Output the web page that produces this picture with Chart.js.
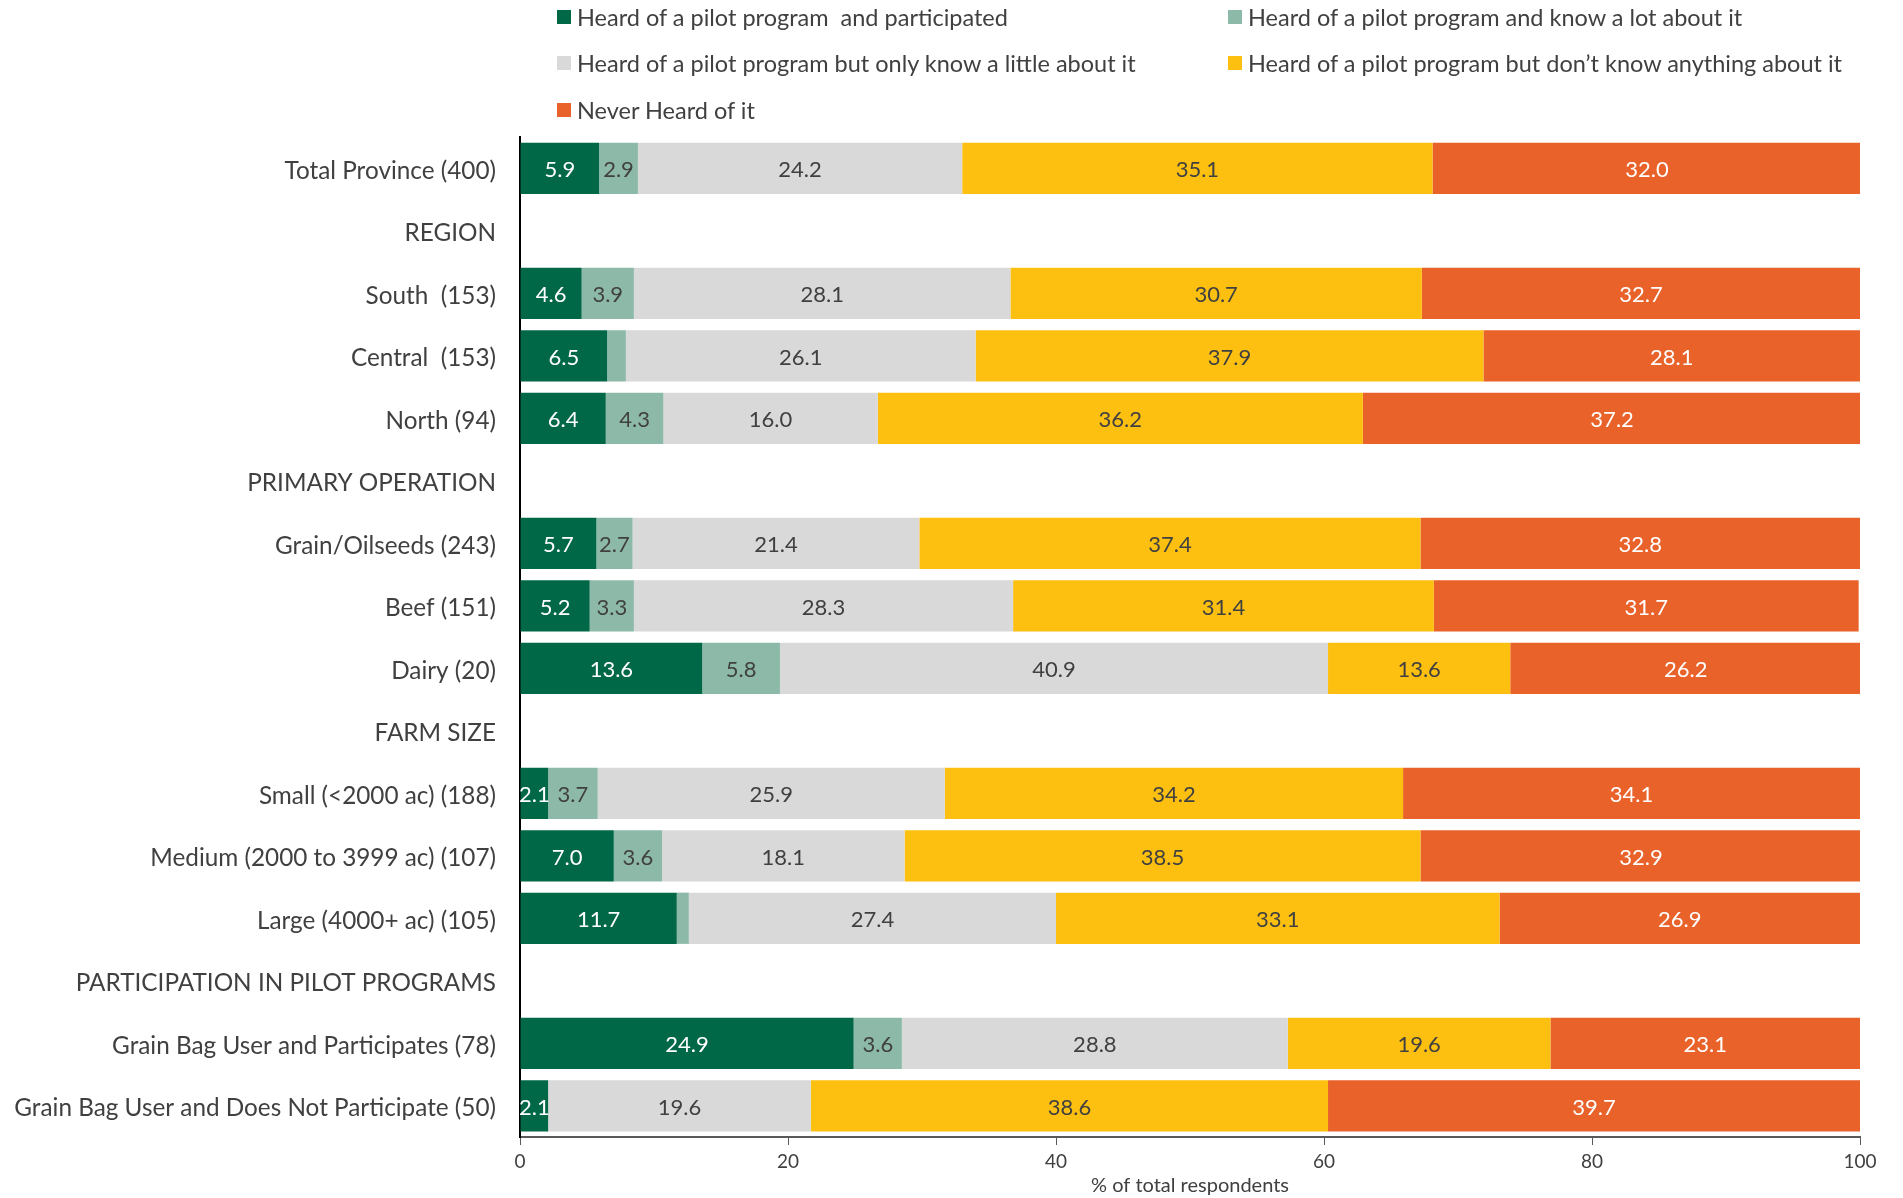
<!DOCTYPE html>
<html>
<head>
<meta charset="utf-8">
<script src="https://cdn.jsdelivr.net/npm/chart.js@4.4.1/dist/chart.umd.min.js"></script>
<style>
    html, body { margin: 0; padding: 0; background: #fff; }
    #wrap { position: relative; width: 1903px; height: 1198px; }
    #chart { position: absolute; left: 0; top: 0; }
    #legend { position: absolute; left: 0; top: 0; width: 1903px; height: 136px; }
    .lg-item {
        position: absolute;
        display: flex;
        align-items: center;
        font-family: Lato, "Open Sans", sans-serif;
        font-size: 23.5px;
        color: #404040;
        white-space: pre;
    }
    .lg-box { width: 14px; height: 14px; margin-right: 6px; }
</style>
</head>
<body>
<div id="wrap">
    <canvas id="chart" width="1903" height="1198"></canvas>
    <div id="legend"></div>
</div>
<script>
// Awareness of pilot programs, % of respondents per group
const categories = [
    'Total Province (400)',
    'REGION',
    'South  (153)',
    'Central  (153)',
    'North (94)',
    'PRIMARY OPERATION',
    'Grain/Oilseeds (243)',
    'Beef (151)',
    'Dairy (20)',
    'FARM SIZE',
    'Small (<2000 ac) (188)',
    'Medium (2000 to 3999 ac) (107)',
    'Large (4000+ ac) (105)',
    'PARTICIPATION IN PILOT PROGRAMS',
    'Grain Bag User and Participates (78)',
    'Grain Bag User and Does Not Participate (50)'
];

const seriesNames = [
    'Heard of a pilot program  and participated',
    'Heard of a pilot program and know a lot about it',
    'Heard of a pilot program but only know a little about it',
    'Heard of a pilot program but don\u2019t know anything about it',
    'Never Heard of it'
];

const participated = [5.9, null, 4.6, 6.5, 6.4, null, 5.7, 5.2, 13.6, null, 2.1, 7.0, 11.7, null, 24.9, 2.1];
const knowALot     = [2.9, null, 3.9, 1.4, 4.3, null, 2.7, 3.3, 5.8, null, 3.7, 3.6, 0.9, null, 3.6, 0];
const knowALittle  = [24.2, null, 28.1, 26.1, 16.0, null, 21.4, 28.3, 40.9, null, 25.9, 18.1, 27.4, null, 28.8, 19.6];
const knowNothing  = [35.1, null, 30.7, 37.9, 36.2, null, 37.4, 31.4, 13.6, null, 34.2, 38.5, 33.1, null, 19.6, 38.6];
const neverHeard   = [32.0, null, 32.7, 28.1, 37.2, null, 32.8, 31.7, 26.2, null, 34.1, 32.9, 26.9, null, 23.1, 39.7];

const xTicks = [0, 20, 40, 60, 80, 100];

const colors = ['#006747', '#8dbaa8', '#d9d9d9', '#fdc010', '#e8622a'];
const labelColors = ['#ffffff', '#404040', '#404040', '#404040', '#ffffff'];
const FONT = 'Lato, "Open Sans", sans-serif';

// values written in the middle of each segment
const segmentLabels = {
    id: 'segmentLabels',
    afterDatasetsDraw(chart) {
        const ctx = chart.ctx;
        ctx.save();
        ctx.font = '22px ' + FONT;
        ctx.textAlign = 'center';
        ctx.textBaseline = 'middle';
        chart.data.datasets.forEach((ds, i) => {
            const meta = chart.getDatasetMeta(i);
            meta.data.forEach((bar, j) => {
                const v = ds.data[j];
                if (v == null || v < 1.5) return;
                const p = bar.getProps(['x', 'y', 'base'], true);
                ctx.fillStyle = labelColors[i];
                ctx.fillText(v.toFixed(1), (p.x + p.base) / 2, p.y + 2);
            });
        });
        ctx.restore();
    }
};

const datasets = [participated, knowALot, knowALittle, knowNothing, neverHeard].map((d, i) => ({
    label: seriesNames[i],
    data: d,
    backgroundColor: colors[i],
    borderWidth: 0,
    barPercentage: 0.82,
    categoryPercentage: 1.0
}));

const chart = new Chart(document.getElementById('chart'), {
    type: 'bar',
    data: { labels: categories, datasets: datasets },
    options: {
        indexAxis: 'y',
        responsive: false,
        animation: false,
        layout: { padding: { top: 137, right: 43, bottom: 0, left: 0 } },
        scales: {
            x: {
                stacked: true,
                min: 0,
                max: 100,
                afterBuildTicks: s => { s.ticks = xTicks.map(v => ({ value: v })); },
                afterFit: s => { s.height = 61; },
                border: { display: true, color: '#595959', width: 2 },
                grid: { drawOnChartArea: false, drawTicks: true, tickLength: 8, color: '#595959', lineWidth: 1 },
                ticks: { color: '#404040', font: { family: FONT, size: 19 }, padding: 5 },
                title: {
                    display: true,
                    text: '% of total respondents',
                    color: '#404040',
                    font: { family: FONT, size: 20 },
                    padding: { top: 1, bottom: 0 }
                }
            },
            y: {
                stacked: true,
                afterFit: s => { s.width = 520; },
                border: { display: true, color: '#000000', width: 2 },
                grid: { display: false, drawTicks: false },
                ticks: { color: '#404040', font: { family: FONT, size: 24.3 }, padding: 24, labelOffset: 2.5, autoSkip: false }
            }
        },
        plugins: {
            legend: { display: false },
            tooltip: { enabled: false }
        }
    },
    plugins: [segmentLabels]
});

// two-column legend above the plot
const legendEl = document.getElementById('legend');
const colLeft = [557, 1228];
const rowMid = [17, 63, 110];
chart.data.datasets.forEach((ds, i) => {
    const item = document.createElement('div');
    item.className = 'lg-item';
    item.style.left = colLeft[i % 2] + 'px';
    item.style.top = (rowMid[Math.floor(i / 2)] - 15) + 'px';
    item.style.height = '30px';
    item.innerHTML = '<span class="lg-box" style="background:' + ds.backgroundColor + '"></span>';
    item.appendChild(document.createTextNode(ds.label));
    legendEl.appendChild(item);
});
</script>
</body>
</html>
